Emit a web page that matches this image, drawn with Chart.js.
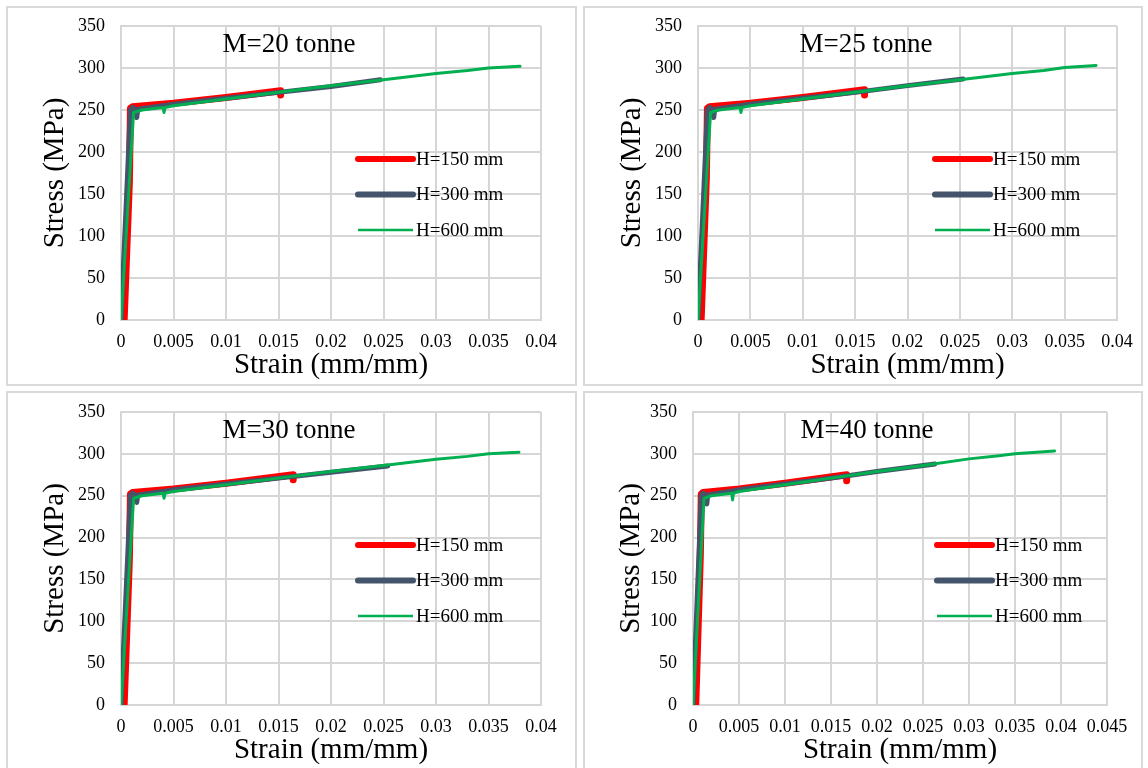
<!DOCTYPE html>
<html>
<head>
<meta charset="utf-8">
<script src="https://cdn.jsdelivr.net/npm/chart.js@4.4.1/dist/chart.umd.min.js"></script>
<style>
  body { margin: 0; background: #fff; width: 1148px; height: 768px; overflow: hidden; position: relative; }
  .frame { position: absolute; border: 2px solid #d9d9d9; box-sizing: border-box; }
  canvas { position: absolute; }
</style>
</head>
<body>
<div class="frame" style="left:6px;top:6px;width:571px;height:380px"></div>
<div class="frame" style="left:583px;top:6px;width:560px;height:380px"></div>
<div class="frame" style="left:6px;top:391px;width:571px;height:380px"></div>
<div class="frame" style="left:583px;top:391px;width:560px;height:380px"></div>
<canvas id="c20" width="569" height="378" style="left:7px;top:7px"></canvas>
<canvas id="c25" width="557" height="378" style="left:584px;top:7px"></canvas>
<canvas id="c30" width="569" height="378" style="left:7px;top:392px"></canvas>
<canvas id="c40" width="558" height="378" style="left:583px;top:392px"></canvas>
<script>
// series labels
const seriesNames = ["H=150 mm", "H=300 mm", "H=600 mm"];
const seriesColors = ["#ff0000", "#44546a", "#00b050"];

// [strain, stress] pairs
const m20_h150 = [[0.0003, 0], [0.0008, 165], [0.0009, 252], [0.0011, 254], [0.005, 258], [0.010, 265], [0.0152, 273], [0.0152, 268]];
const m20_h300 = [[0, 0], [0.0009, 250], [0.0011, 253], [0.0014, 250], [0.0015, 241], [0.0016, 251], [0.005, 257], [0.010, 264], [0.015, 271], [0.020, 278], [0.0247, 286]];
const m20_h600 = [[0, 0], [0.0012, 247], [0.0020, 250], [0.0040, 253], [0.0041, 247], [0.0042, 253], [0.005, 255], [0.010, 263], [0.015, 271], [0.020, 279], [0.025, 286], [0.030, 293.5], [0.033, 297], [0.035, 300], [0.038, 302]];

const m25_h150 = [[0.0003, 0], [0.0008, 170], [0.0009, 252], [0.0011, 254], [0.005, 258], [0.010, 265], [0.0159, 274], [0.0159, 268]];
const m25_h300 = [[0, 0], [0.0009, 250], [0.0011, 253], [0.0014, 250], [0.0015, 241], [0.0016, 251], [0.005, 257], [0.010, 264], [0.015, 271], [0.020, 279], [0.0253, 287]];
const m25_h600 = [[0, 0], [0.0012, 247], [0.0020, 250], [0.0040, 253], [0.0041, 247], [0.0042, 253], [0.005, 255], [0.010, 263], [0.015, 271], [0.020, 279], [0.025, 286], [0.030, 293.5], [0.033, 297], [0.035, 300.5], [0.038, 303]];

const m30_h150 = [[0.0003, 0], [0.0008, 175], [0.0009, 252], [0.0011, 254], [0.005, 258], [0.010, 265], [0.0164, 275], [0.0164, 269]];
const m30_h300 = [[0, 0], [0.0009, 250], [0.0011, 253], [0.0014, 250], [0.0015, 242], [0.0016, 251], [0.005, 257], [0.010, 264], [0.015, 271], [0.020, 278], [0.0254, 285.5]];
const m30_h600 = [[0, 0], [0.0012, 247], [0.0020, 250], [0.0040, 253], [0.0041, 247], [0.0042, 253], [0.005, 255], [0.010, 263], [0.015, 271], [0.020, 279], [0.025, 286], [0.030, 293.5], [0.033, 297], [0.035, 300], [0.0379, 302]];

const m40_h150 = [[0.0003, 0], [0.0008, 180], [0.0009, 252], [0.0011, 254], [0.005, 258], [0.010, 265], [0.0167, 275], [0.0167, 268]];
const m40_h300 = [[0, 0], [0.0009, 250], [0.0011, 253], [0.0014, 250], [0.0015, 240], [0.0016, 251], [0.005, 257], [0.010, 264], [0.015, 271], [0.020, 279], [0.0263, 288]];
const m40_h600 = [[0, 0], [0.0012, 247], [0.0020, 250], [0.0042, 253], [0.0043, 245], [0.0044, 253], [0.005, 255], [0.010, 263], [0.015, 271], [0.020, 279], [0.025, 286], [0.030, 294], [0.033, 297.5], [0.035, 300], [0.0393, 303.5]];

// tick settings
const yTicksMax = 350;
const yTicksStep = 50;
const xTicksStep = 0.005;

const serif = "'Liberation Serif', 'Times New Roman', serif";

const panelDeco = {
  id: "panelDeco",
  afterDatasetsDraw(chart, args, opts) {
    const ctx = chart.ctx;
    const area = chart.chartArea;
    ctx.save();
    ctx.fillStyle = "#000";
    ctx.font = "27px " + serif;
    ctx.textAlign = "center";
    ctx.textBaseline = "middle";
    ctx.fillText(opts.title, area.left + opts.titleDx, area.top + 19);

    ctx.font = "19px " + serif;
    ctx.textAlign = "left";
    const widths = [6, 6, 2.5];
    chart.data.datasets.forEach((ds, i) => {
      const y = area.top + 133 + i * 35.5;
      const x0 = area.right - opts.legendDx;
      ctx.strokeStyle = ds.borderColor;
      ctx.lineWidth = widths[i];
      ctx.lineCap = i < 2 ? "round" : "butt";
      ctx.beginPath();
      ctx.moveTo(x0, y);
      ctx.lineTo(x0 + 55, y);
      ctx.stroke();
      ctx.fillStyle = "#000";
      ctx.fillText(ds.label, x0 + 58, y + 1);
    });
    ctx.restore();
  }
};

const noOverflow = (s) => {
  s.paddingTop = 0;
  s.paddingBottom = 0;
  s.paddingLeft = 0;
  s.paddingRight = 0;
};

const makePanel = (id, title, series, xMax, plot, titleDx, legendDx) => {
  const canvas = document.getElementById(id);
  const H = canvas.height;
  const widths = [7, 5, 3];
  const orders = [3, 2, 1];
  new Chart(canvas, {
    type: "scatter",
    data: {
      datasets: series.map((pts, i) => ({
        label: seriesNames[i],
        data: pts.map((p) => ({ x: p[0], y: p[1] })),
        showLine: true,
        borderColor: seriesColors[i],
        backgroundColor: seriesColors[i],
        borderWidth: widths[i],
        borderJoinStyle: "round",
        borderCapStyle: "round",
        pointRadius: 0,
        tension: 0,
        order: orders[i],
      })),
    },
    options: {
      responsive: false,
      animation: false,
      layout: { padding: { left: 0, top: plot.top, right: canvas.width - plot.right, bottom: 0 } },
      plugins: {
        legend: { display: false },
        tooltip: { enabled: false },
        panelDeco: { title: title, titleDx: titleDx, legendDx: legendDx },
      },
      scales: {
        x: {
          type: "linear",
          min: 0,
          max: xMax,
          ticks: {
            stepSize: xTicksStep,
            color: "#000",
            padding: 11,
            maxRotation: 0,
            autoSkip: false,
            font: { family: serif, size: 18 },
            callback: (v) => Number(v.toFixed(3)).toString(),
          },
          grid: { color: "#d6d6d6", lineWidth: 2, drawTicks: false },
          border: { color: "#d6d6d6", width: 2 },
          title: {
            display: true,
            text: "Strain (mm/mm)",
            color: "#000",
            font: { family: serif, size: 29 },
            padding: { top: 0, bottom: 2 },
          },
          afterFit: (s) => { s.height = H - plot.bottom; noOverflow(s); },
        },
        y: {
          min: 0,
          max: yTicksMax,
          ticks: {
            stepSize: yTicksStep,
            color: "#000",
            padding: 16,
            font: { family: serif, size: 18 },
          },
          grid: { color: "#d6d6d6", lineWidth: 2, drawTicks: false },
          border: { color: "#d6d6d6", width: 2 },
          title: {
            display: true,
            text: "Stress (MPa)",
            color: "#000",
            font: { family: serif, size: 29 },
            padding: { top: 31, bottom: 0 },
          },
          afterFit: (s) => { s.width = plot.left; noOverflow(s); },
        },
      },
    },
    plugins: [panelDeco],
  });
};

makePanel("c20", "M=20 tonne", [m20_h150, m20_h300, m20_h600], 0.04, { left: 114, right: 534, top: 19, bottom: 313 }, 168, 183);
makePanel("c25", "M=25 tonne", [m25_h150, m25_h300, m25_h600], 0.04, { left: 114, right: 533, top: 19, bottom: 313 }, 168, 182);
makePanel("c30", "M=30 tonne", [m30_h150, m30_h300, m30_h600], 0.04, { left: 114, right: 534, top: 20, bottom: 313 }, 168, 183);
makePanel("c40", "M=40 tonne", [m40_h150, m40_h300, m40_h600], 0.045, { left: 110, right: 524, top: 20, bottom: 313 }, 174, 170);
</script>
</body>
</html>
